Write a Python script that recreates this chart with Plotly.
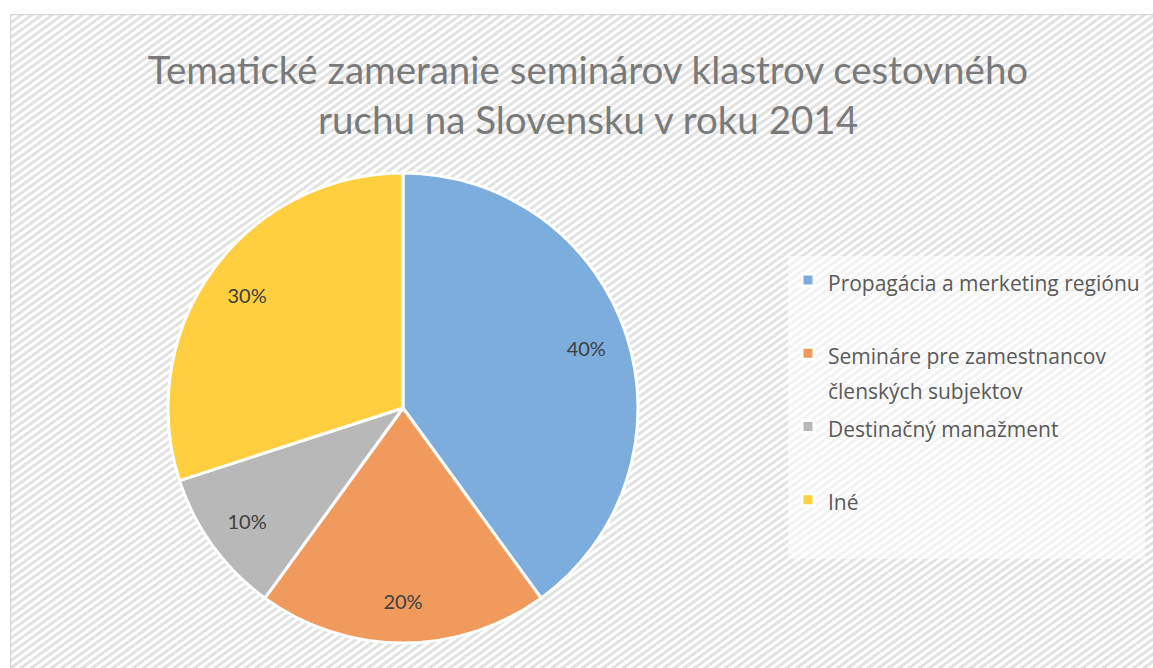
import base64
import plotly.graph_objects as go

# ---- data ----
categories = ["Propagácia a merketing regiónu",
              "Semináre pre zamestnancov<br>členských subjektov",
              "Destinačný manažment",
              "Iné"]
values = [40, 20, 10, 30]
colors = ["#7DADDD", "#F09A5E", "#B8B8B8", "#FFCF3F"]
title_text = "Tematické zameranie seminárov klastrov cestovného<br>ruchu na Slovensku v roku 2014"

W, H = 1153, 668
FONT = "Lato"
LEG_FONT = "Open Sans"

# legend labels: visible text at 21px inside a larger base line height to mimic Excel spacing
legend_labels = []
for c in categories:
    lines = c.split("<br>")
    if len(lines) < 2:
        lines.append(" ")
    legend_labels.append("<br>".join(f'<span style="font-size:21px">{ln}</span>' for ln in lines))

# ---- background hatch as svg ----
fw, fh = W - 10 + 20, H - 14 + 20
svg = f'''<svg xmlns="http://www.w3.org/2000/svg" width="{fw}" height="{fh}" viewBox="0 0 {fw} {fh}" preserveAspectRatio="none">
<defs><pattern id="p" patternUnits="userSpaceOnUse" width="6" height="6" patternTransform="rotate(-36)">
<rect x="0" y="0" width="6" height="6" fill="#ffffff"/><rect x="0" y="0" width="6" height="3" fill="#e2e2e2"/></pattern></defs>
<rect x="0.5" y="0.5" width="{fw+5}" height="{fh+5}" fill="url(#p)" stroke="#d6d6d6" stroke-width="1.5"/>
</svg>'''
src = "data:image/svg+xml;base64," + base64.b64encode(svg.encode()).decode()

cx, cy, R = 403, 408, 235
dom_x = [(cx - R) / W, (cx + R) / W]
dom_y = [1 - (cy + R) / H, 1 - (cy - R) / H]

fig = go.Figure()
fig.add_trace(go.Pie(
    labels=legend_labels, values=values, sort=False, direction="clockwise",
    marker=dict(colors=colors, line=dict(color="#ffffff", width=3)),
    textinfo="none", domain=dict(x=dom_x, y=dom_y), showlegend=True,
    hoverinfo="percent",
))
# label ring (transparent) to push percent labels outward
fig.add_trace(go.Pie(
    labels=legend_labels, values=values, sort=False, direction="clockwise",
    hole=0.64, marker=dict(colors=["rgba(0,0,0,0)"] * 4, line=dict(width=0)),
    textinfo="percent", textposition="inside", insidetextorientation="horizontal",
    textfont=dict(family=FONT, size=20, color="#404040"),
    domain=dict(x=dom_x, y=dom_y), showlegend=False, hoverinfo="skip",
))

fig.update_layout(
    width=W, height=H,
    margin=dict(l=0, r=0, t=0, b=0),
    paper_bgcolor="#ffffff", plot_bgcolor="rgba(0,0,0,0)",
    title=dict(text=title_text, x=0.51, xanchor="center", y=1 - 84 / H, yanchor="top",
               font=dict(family=FONT, size=38.5, color="#7a7a7a", weight=400)),
    legend=dict(x=788 / W, xanchor="left", y=1 - 256 / H, yanchor="top",
                bgcolor="rgba(255,255,255,0.6)", valign="top",
                font=dict(family=LEG_FONT, size=27, color="#595959"),
                itemclick=False, itemdoubleclick=False),
    images=[dict(source=src, xref="paper", yref="paper", x=10 / W, y=1 - 14 / H,
                 sizex=fw / W, sizey=fh / H, sizing="stretch", xanchor="left",
                 yanchor="top", layer="below")],
)

fig.write_html("out.html", config={"displayModeBar": False},
               post_script="document.body.style.margin='0';document.body.style.overflow='hidden';")
